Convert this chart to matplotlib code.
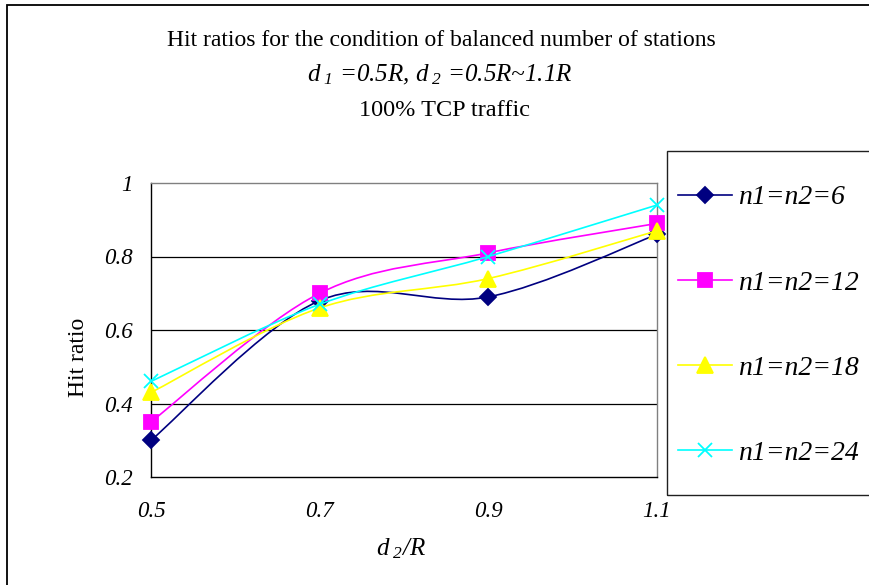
import matplotlib
matplotlib.use("Agg")
import matplotlib.pyplot as plt
from matplotlib.lines import Line2D
from matplotlib.patches import PathPatch, Rectangle
from matplotlib.path import Path

plt.rcParams["font.family"] = ["Liberation Serif", "DejaVu Serif"]
plt.rcParams["mathtext.fontset"] = "custom"
plt.rcParams["mathtext.rm"] = "Liberation Serif:italic"
plt.rcParams["mathtext.it"] = "Liberation Serif:italic"
plt.rcParams["mathtext.default"] = "it"

# ── data ──────────────────────────────────────────────────────────────────
d2_ratio = [0.5, 0.7, 0.9, 1.1]
hit_n6 = [0.30, 0.68, 0.69, 0.86]
hit_n12 = [0.35, 0.70, 0.81, 0.89]
hit_n18 = [0.43, 0.66, 0.74, 0.87]
hit_n24 = [0.46, 0.67, 0.80, 0.94]

series_labels = ["n1=n2=6", "n1=n2=12", "n1=n2=18", "n1=n2=24"]
y_ticks = [0.2, 0.4, 0.6, 0.8, 1.0]
y_tick_labels = ["0.2", "0.4", "0.6", "0.8", "1"]
x_ticks = [0.5, 0.7, 0.9, 1.1]
x_tick_labels = ["0.5", "0.7", "0.9", "1.1"]

STYLES = [
    dict(color="#000080", marker="D", ms=8),
    dict(color="#FF00FF", marker="s", ms=10),
    dict(color="#FFFF00", marker="^", ms=11),
    dict(color="#00FFFF", marker="x", ms=10),
]


def smooth_path(xs, ys):
    """Excel-style smoothed line: cubic Bezier segments through every point."""
    pts = list(zip(xs, ys))
    ext = [pts[0]] + pts + [pts[-1]]
    verts = [pts[0]]
    codes = [Path.MOVETO]
    for i in range(1, len(ext) - 2):
        p0, p1, p2, p3 = ext[i - 1], ext[i], ext[i + 1], ext[i + 2]
        c1 = (p1[0] + (p2[0] - p0[0]) / 6, p1[1] + (p2[1] - p0[1]) / 6)
        c2 = (p2[0] - (p3[0] - p1[0]) / 6, p2[1] - (p3[1] - p1[1]) / 6)
        verts += [c1, c2, p2]
        codes += [Path.CURVE4] * 3
    return Path(verts, codes)


W, H = 869, 585
fig = plt.figure(figsize=(W / 100, H / 100), dpi=100)
fig.patch.set_facecolor("white")

# chart area border (runs off the right and bottom edges)
fig.patches.append(Rectangle((7 / W, -0.05), 1.1, 1.05 - 5 / H,
                             transform=fig.transFigure, fill=False,
                             edgecolor="black", linewidth=1.3))

ax = fig.add_axes([151 / W, 1 - 477 / H, (657 - 151) / W, (477 - 183) / H])
ax.set_xlim(0.5, 1.1)
ax.set_ylim(0.2, 1.0)

for name, sp in ax.spines.items():
    sp.set_linewidth(1.0)
    sp.set_edgecolor("black" if name in ("left", "bottom") else "#808080")

ax.set_yticks(y_ticks)
ax.set_yticklabels(y_tick_labels)
ax.set_xticks(x_ticks)
ax.set_xticklabels(x_tick_labels)
ax.tick_params(length=0, labelsize=16.5)
ax.tick_params(axis="y", pad=13)
ax.tick_params(axis="x", pad=17)
for lbl in ax.get_xticklabels() + ax.get_yticklabels():
    lbl.set_fontstyle("italic")

for y in y_ticks[1:-1]:
    ax.axhline(y, color="black", linewidth=0.9, zorder=1)

handles = []
for ys, st, lab in zip([hit_n6, hit_n12, hit_n18, hit_n24], STYLES, series_labels):
    ax.add_patch(PathPatch(smooth_path(d2_ratio, ys), fill=False,
                           edgecolor=st["color"], linewidth=1.2,
                           clip_on=False, zorder=3))
    ax.plot(d2_ratio, ys, linestyle="none", marker=st["marker"],
            markersize=st["ms"], color=st["color"], markeredgewidth=1.3,
            clip_on=False, zorder=3)
    handles.append(Line2D([], [], color=st["color"], linewidth=1.2,
                          marker=st["marker"], markersize=st["ms"],
                          markeredgewidth=1.3, label=lab))

# axis titles
fig.text(79 / W, 1 - 357 / H, "Hit ratio", rotation=90,
         ha="center", va="center", fontsize=17)
fig.text(401 / W, 1 - 549 / H, r"$d_{\ 2}$/R",
         ha="center", va="center", fontsize=18, fontstyle="italic")

# titles
fig.text(441 / W, 1 - 40 / H, "Hit ratios for the condition of balanced number of stations",
         ha="center", va="center", fontsize=17)
fig.text(440 / W, 1 - 75 / H, r"$d_{\ 1}$ =0.5R, $d_{\ 2}$ =0.5R~1.1R",
         ha="center", va="center", fontsize=18, fontstyle="italic")
fig.text(444 / W, 1 - 110 / H, "100% TCP traffic",
         ha="center", va="center", fontsize=17.5)

# legend box (also runs off the right edge)
fig.patches.append(Rectangle((667 / W, 1 - 495 / H), 0.5, (495 - 151) / H,
                             transform=fig.transFigure, fill=False,
                             edgecolor="#202020", linewidth=1.0))
leg = fig.legend(handles=handles, loc="upper left",
                 bbox_to_anchor=(678 / W, 1 - 185 / H),
                 frameon=False, borderpad=0, borderaxespad=0,
                 handlelength=1.95, handletextpad=0.22, labelspacing=2.15,
                 prop={"size": 20, "style": "italic"})

fig.savefig("out.png", dpi=100, facecolor="white")
